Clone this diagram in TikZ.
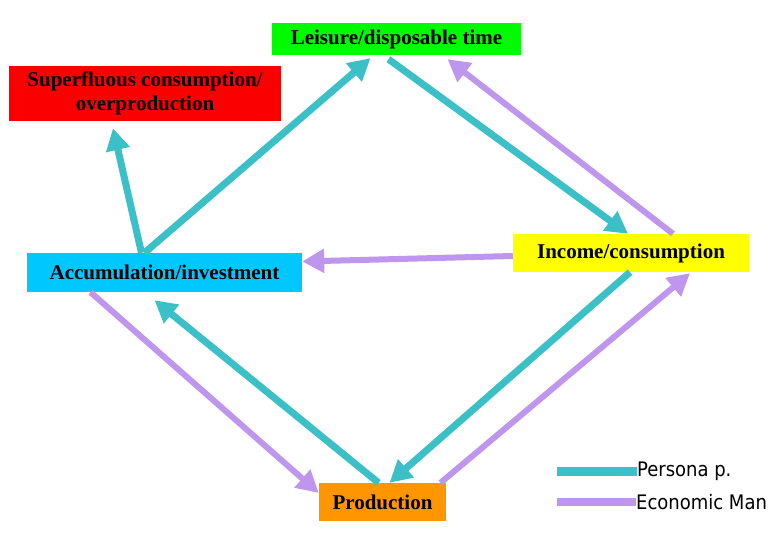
\documentclass[tikz,border=0pt]{standalone}
\usepackage{fontspec}
\setmainfont{Liberation Serif}
\newfontfamily\legendfont{DejaVu Sans Condensed}
\usepackage{xcolor}
\usetikzlibrary{arrows.meta}

\definecolor{personacol}{RGB}{60,192,200}
\definecolor{ecocol}{RGB}{190,150,238}
\definecolor{boxgreen}{RGB}{0,250,0}
\definecolor{boxred}{RGB}{250,0,0}
\definecolor{boxcyan}{RGB}{0,200,255}
\definecolor{boxyellow}{RGB}{255,255,0}
\definecolor{boxorange}{RGB}{255,150,0}

\begin{document}
\begin{tikzpicture}[x=1pt, y=-1pt,
    box/.style={inner sep=0pt, align=center, font=\fontsize{21}{24}\selectfont\bfseries},
    persona/.style={draw=personacol, line width=7pt, -{Triangle[length=22pt, width=23pt]}},
    economic/.style={draw=ecocol, line width=6pt, -{Triangle[length=22pt, width=23pt]}},
    legendtext/.style={inner sep=0pt, anchor=west, font=\legendfont\fontsize{20}{24}\selectfont}]
    % 1. Canvas with the margins of the reference
    \fill[white] (0,0) rectangle (776,553);
    \useasboundingbox (0,0) rectangle (776,553);

    % 2. The five boxes
    \node[box, fill=boxgreen, minimum width=249pt, minimum height=32pt] (leisure) at (396.5,39) {Leisure/disposable time};
    \node[box, fill=boxred, minimum width=272pt, minimum height=55pt] (superfl) at (145,93.5) {Superfluous consumption/\\overproduction};
    \node[box, fill=boxcyan, minimum width=275pt, minimum height=39pt] (accum) at (164.5,272.5) {Accumulation/investment};
    \node[box, fill=boxyellow, minimum width=236pt, minimum height=38pt] (income) at (631,253) {Income/consumption};
    \node[box, fill=boxorange, minimum width=127pt, minimum height=38pt] (prod) at (382.5,502) {Production};

    % 3. Persona p. arrows
    \draw[persona] ([xshift=-20pt]accum.north) -- ([xshift=-26pt, yshift=-3pt]leisure.south);
    \draw[persona] ([xshift=-8pt, yshift=-4pt]leisure.south) -- ([xshift=-3pt]income.north);
    \draw[persona] ([xshift=-23pt]accum.north) -- ([xshift=-32pt, yshift=-7pt]superfl.south);
    \draw[persona] ([xshift=-1pt]income.south) -- ([xshift=7pt]prod.north);
    \draw[persona] ([xshift=-4pt]prod.north) -- ([xshift=-10pt, yshift=-8pt]accum.south);

    % 4. Economic Man arrows
    \draw[economic] ([xshift=42pt]income.north) -- ([xshift=51pt, yshift=-4pt]leisure.south);
    \draw[economic] ([yshift=-3pt]income.west) -- ([yshift=11pt]accum.east);
    \draw[economic] ([xshift=-74pt]accum.south) -- ([yshift=9pt]prod.west);
    \draw[economic] ([xshift=58pt]prod.north) -- ([xshift=59pt, yshift=-1pt]income.south);

    % 5. Legend
    \node[legendtext] (personalbl) at (637,471) {Persona p.};
    \node[legendtext] (ecolbl) at (636,502) {Economic Man};
    \coordinate (personastart) at (557,471);
    \coordinate (ecostart) at (557,502);
    \draw[personacol, line width=9pt] (personastart) -- (personalbl.west);
    \draw[ecocol, line width=8pt] (ecostart) -- (ecolbl.west);
\end{tikzpicture}
\end{document}
